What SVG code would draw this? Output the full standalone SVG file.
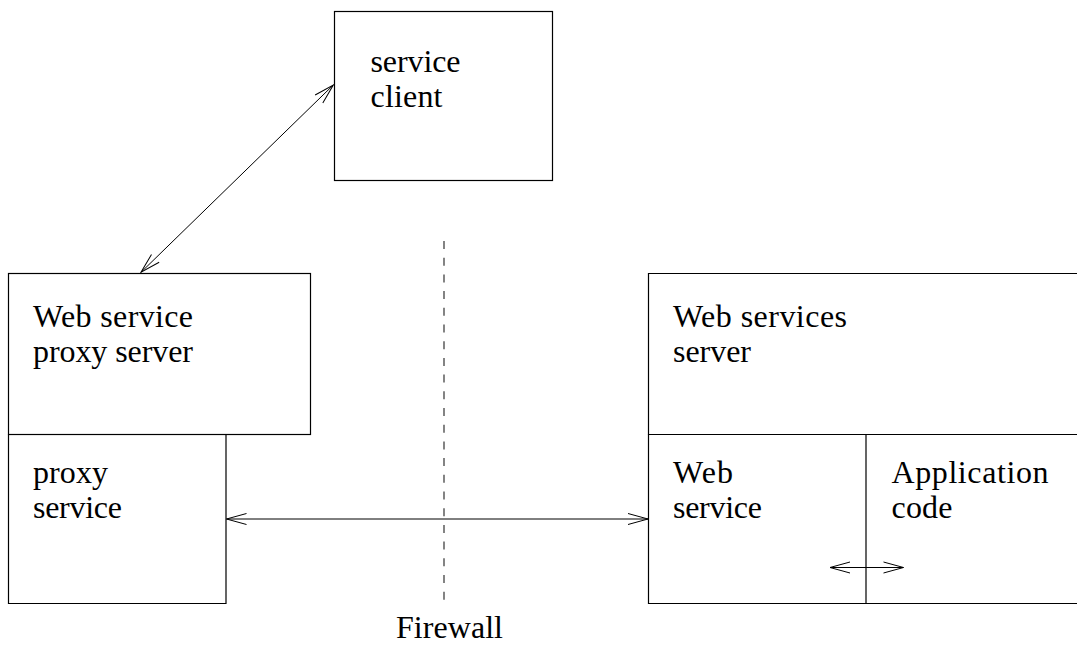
<svg xmlns="http://www.w3.org/2000/svg" width="1077" height="650" viewBox="0 0 1077 650">
  <style>
    .box { fill: none; stroke: #000; stroke-width: 1.2; }
    .lbl { font-family: "Liberation Serif", "Times New Roman", serif; font-size: 32px; fill: #000; }
    .conn { fill: none; stroke: #000; stroke-width: 1; }
    .fw { fill: none; stroke: #333; stroke-width: 1.2; stroke-dasharray: 8 8.7; }
  </style>
  <defs>
    <marker id="arr" markerUnits="userSpaceOnUse" markerWidth="24" markerHeight="14" viewBox="-22 -7 24 14" refX="0" refY="0" orient="auto-start-reverse">
      <path d="M -20 -5.5 L 0 0 L -20 5.5" fill="none" stroke="#000" stroke-width="1"/>
    </marker>
  </defs>
  <rect width="1077" height="650" fill="#fff"/>

  <g id="service-client">
    <rect class="box" x="334.5" y="11.5" width="218" height="169"/>
    <text class="lbl" x="370.5" y="72" textLength="90" lengthAdjust="spacing">service</text>
    <text class="lbl" x="370.5" y="107" textLength="72" lengthAdjust="spacing">client</text>
  </g>

  <g id="proxy-server">
    <rect class="box" x="8.5" y="273.5" width="302" height="161"/>
    <text class="lbl" x="33" y="327" textLength="160" lengthAdjust="spacing">Web service</text>
    <text class="lbl" x="33" y="362" textLength="160" lengthAdjust="spacing">proxy server</text>
  </g>

  <g id="proxy-service">
    <path class="box" d="M 8.5 434.5 L 8.5 603.5 L 226 603.5 L 226 434.5"/>
    <text class="lbl" x="33" y="483" textLength="75" lengthAdjust="spacing">proxy</text>
    <text class="lbl" x="33" y="518" textLength="89" lengthAdjust="spacing">service</text>
  </g>

  <g id="ws-server">
    <path class="box" d="M 1080 273.5 L 648.5 273.5 L 648.5 434.5 L 1080 434.5"/>
    <text class="lbl" x="673" y="327" textLength="174" lengthAdjust="spacing">Web services</text>
    <text class="lbl" x="673" y="362" textLength="78" lengthAdjust="spacing">server</text>
  </g>

  <g id="web-service">
    <path class="box" d="M 648.5 434.5 L 648.5 603.5 L 866 603.5 L 866 434.5"/>
    <text class="lbl" x="673" y="483" textLength="60" lengthAdjust="spacing">Web</text>
    <text class="lbl" x="673" y="518" textLength="89" lengthAdjust="spacing">service</text>
  </g>

  <g id="app-code">
    <path class="box" d="M 866 603.5 L 1080 603.5"/>
    <text class="lbl" x="891.5" y="483" textLength="157" lengthAdjust="spacing">Application</text>
    <text class="lbl" x="891.5" y="518" textLength="61" lengthAdjust="spacing">code</text>
  </g>

  <g id="firewall">
    <line class="fw" x1="444" y1="241" x2="444" y2="604"/>
    <text class="lbl" x="396" y="638" textLength="107" lengthAdjust="spacing">Firewall</text>
  </g>

  <g id="connectors">
    <line class="conn" x1="141" y1="272.3" x2="333.3" y2="85" marker-start="url(#arr)" marker-end="url(#arr)"/>
    <line class="conn" x1="226.5" y1="519" x2="648" y2="519" marker-start="url(#arr)" marker-end="url(#arr)"/>
    <line class="conn" x1="830" y1="567.5" x2="903.5" y2="567.5" marker-start="url(#arr)" marker-end="url(#arr)"/>
  </g>
</svg>
